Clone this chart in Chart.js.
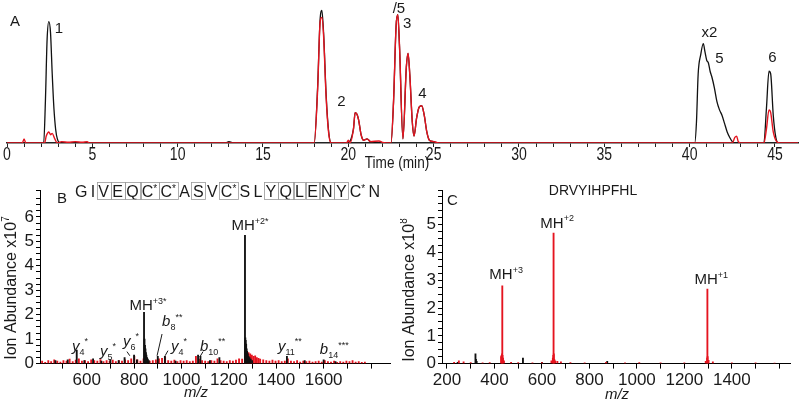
<!DOCTYPE html>
<html>
<head>
<meta charset="utf-8">
<script src="https://cdn.jsdelivr.net/npm/chart.js@4.4.0/dist/chart.umd.min.js"></script>
<style>
html, body { margin: 0; padding: 0; background: #fff; }
#wrap { position: relative; width: 800px; height: 405px; overflow: hidden; }
canvas { position: absolute; }
#chartA { left: 0; top: 0; z-index: 2; }
#chartB { left: 0; top: 170px; }
#chartC { left: 400px; top: 170px; }
</style>
</head>
<body>
<div id="wrap">
  <canvas id="chartA" width="800" height="176"></canvas>
  <canvas id="chartB" width="400" height="235"></canvas>
  <canvas id="chartC" width="400" height="235"></canvas>
</div>
<script>
// ---- Panel A: chromatogram (time in min, relative intensity) ----
const blackTime = [0, 2.15, 2.25, 2.35, 2.45, 2.55, 2.65, 2.75, 2.85, 2.95, 3.1, 12.8, 13.0, 13.3, 18.0, 18.2, 18.35, 18.45, 18.55, 18.7, 18.85, 19.0,
  19.9, 20.3, 20.4, 20.5, 20.6, 20.75, 20.9, 21.1, 21.3, 22.5, 22.65, 22.8, 22.9, 23.0, 23.2, 23.4, 23.5, 23.6, 23.75, 23.85, 24.0, 24.15, 24.3, 24.45, 24.6, 24.75, 25.0, 25.3,
  40.3, 40.4, 40.5, 40.65, 40.8, 40.9, 41.0, 41.1, 41.2, 41.3, 41.45, 41.6, 41.75, 41.9, 42.05, 42.2, 42.35, 42.5, 42.6,
  44.35, 44.5, 44.65, 44.75, 44.9, 45.05, 45.2, 46.35];
const blackVal = [0, 0, 30, 75, 88, 80, 50, 25, 10, 3, 0, 0, 1, 0, 0, 40, 90, 96, 80, 35, 8, 0,
  0, 10, 22, 21, 17, 6, 2, 3, 1, 0, 30, 85, 93, 70, 3, 55, 65, 50, 15, 5, 18, 26, 27, 20, 8, 2, 1, 0,
  0, 15, 50, 64, 72, 66, 60, 58, 52, 48, 40, 30, 24, 20, 14, 8, 4, 1, 0,
  0, 25, 52, 50, 20, 4, 0, 0];

const redTime = [0, 0.9, 1.0, 1.1, 2.2, 2.3, 2.45, 2.55, 2.65, 2.8, 2.95, 3.2, 3.6, 4.0, 4.4, 4.7, 4.8, 18.0, 18.2, 18.35, 18.45, 18.55, 18.7, 18.85, 19.0,
  19.9, 20.0, 20.1, 20.3, 20.4, 20.5, 20.6, 20.75, 20.9, 21.1, 21.3, 21.8, 22.0, 22.5, 22.65, 22.8, 22.9, 23.0, 23.2, 23.4, 23.5, 23.6, 23.75, 23.85, 24.0, 24.15, 24.3, 24.45, 24.6, 24.75, 25.0, 25.3,
  42.5, 42.65, 42.75, 42.85, 43.0, 44.35, 44.5, 44.65, 44.75, 44.9, 45.1, 45.3, 46.35];
const redVal = [0, 0, 3, 0, 0, 5, 8, 6, 7, 3, 0, 1, 0.5, 1, 0.5, 1, 0, 0, 38, 88, 91, 78, 33, 7, 0,
  0, 2, 0, 10, 22, 21, 17, 6, 2, 3, 1, 1.5, 0.5, 0, 30, 85, 93, 70, 3, 55, 65, 50, 15, 5, 18, 26, 27, 20, 8, 2, 1, 0,
  0, 4, 5, 1, 0, 0, 10, 24, 22, 8, 1, 0, 0];
const timeLabelStep = 5;

// ---- Panel B: MS spectrum, GIVEQCCASVCSLYQLENYCN (x10^7) ----
const mzBblack = [468, 520, 558, 590, 627, 662, 700, 735, 760, 800, 812, 842, 844, 846, 848, 850, 852, 855, 858, 862,
  900, 930, 975, 1070, 1080, 1120, 1160, 1268, 1269.5, 1271, 1273, 1275, 1277, 1280, 1283, 1287, 1292, 1298, 1445, 1520, 1600, 1650];
const intBblack = [0.12, 0.15, 0.55, 0.12, 0.2, 0.1, 0.15, 0.12, 0.25, 0.35, 0.15, 2.1, 1.0, 0.75, 0.6, 0.45, 0.35, 0.25, 0.18, 0.12,
  0.3, 0.3, 0.1, 0.35, 0.3, 0.12, 0.25, 5.25, 1.05, 0.95, 0.8, 0.6, 0.5, 0.4, 0.3, 0.25, 0.18, 0.12, 0.3, 0.12, 0.15, 0.08];
const mzBred = [412, 425, 438, 450, 463, 476, 489, 502, 515, 528, 541, 554, 567, 580, 593, 606, 619, 632, 645, 658, 671, 684, 697, 710,
  723, 736, 749, 762, 775, 788, 801, 814, 827, 840, 853, 866, 879, 892, 905, 918, 931, 944, 957, 970, 983, 996, 1009, 1022, 1035,
  1048, 1061, 1074, 1087, 1100, 1113, 1126, 1139, 1152, 1165, 1178, 1191, 1204, 1217, 1230, 1243, 1256, 1269, 1276, 1283, 1290,
  1297, 1304, 1311, 1318, 1325, 1332, 1345, 1358, 1371, 1384, 1397, 1410, 1423, 1436, 1449, 1462, 1475, 1488, 1501, 1514, 1527,
  1540, 1553, 1566, 1579, 1592, 1605, 1618, 1631, 1644, 1657, 1670, 1683, 1696, 1709, 1722, 1735, 1748, 1761, 1774, 1787];
const intBred = [0.1, 0.05, 0.12, 0.08, 0.15, 0.1, 0.06, 0.12, 0.1, 0.18, 0.08, 0.14, 0.2, 0.1, 0.12, 0.08, 0.15, 0.12, 0.1, 0.16, 0.08, 0.12, 0.1, 0.14,
  0.08, 0.12, 0.1, 0.15, 0.12, 0.2, 0.3, 0.15, 0.1, 0.2, 0.18, 0.1, 0.12, 0.15, 0.2, 0.22, 0.28, 0.12, 0.1, 0.14, 0.08, 0.12, 0.1, 0.12, 0.08,
  0.1, 0.3, 0.18, 0.12, 0.1, 0.08, 0.12, 0.1, 0.2, 0.12, 0.1, 0.08, 0.12, 0.1, 0.14, 0.2, 0.18, 0.3, 0.42, 0.45, 0.4,
  0.35, 0.3, 0.32, 0.25, 0.22, 0.18, 0.15, 0.12, 0.1, 0.14, 0.1, 0.12, 0.08, 0.1, 0.2, 0.1, 0.08, 0.12, 0.06, 0.1, 0.08,
  0.1, 0.06, 0.08, 0.1, 0.06, 0.12, 0.08, 0.06, 0.1, 0.05, 0.08, 0.06, 0.1, 0.08, 0.12, 0.06, 0.08, 0.05, 0.06];
const mzTicksB = [500, 600, 700, 800, 900, 1000, 1100, 1200, 1300, 1400, 1500, 1600, 1700, 1800];
const mzLabelsB = [600, 800, 1000, 1200, 1400, 1600];

// ---- Panel C: MS spectrum, DRVYIHPFHL (x10^8) ----
const mzCred = [230, 250, 270, 300, 350, 380, 428, 430, 432, 433, 434, 436, 440, 470, 500, 560, 600, 640, 646, 648, 649, 650, 652, 656,
  665, 680, 720, 780, 870, 950, 1010, 1100, 1200, 1290, 1296, 1297, 1298, 1302, 1320, 1400, 1500, 1580];
const intCred = [0.05, 0.1, 0.06, 0.04, 0.03, 0.04, 0.25, 0.3, 0.35, 2.8, 0.3, 0.2, 0.1, 0.05, 0.04, 0.03, 0.04, 0.1, 0.2, 0.3, 4.7, 0.35, 0.15, 0.1,
  0.08, 0.06, 0.04, 0.03, 0.05, 0.03, 0.04, 0.03, 0.03, 0.08, 0.2, 2.68, 0.25, 0.12, 0.06, 0.03, 0.03, 0.02];
const mzCblack = [245, 320, 322, 325, 520, 600, 875];
const intCblack = [0.05, 0.35, 0.15, 0.08, 0.2, 0.05, 0.08];
const mzTicksC = [200, 300, 400, 500, 600, 700, 800, 900, 1000, 1100, 1200, 1300, 1400, 1500, 1600];
const mzLabelsC = [200, 400, 600, 800, 1000, 1200, 1400];

const seqTokens = ['G', 'I', 'V', 'E', 'Q', 'C*', 'C*', 'A', 'S', 'V', 'C*', 'S', 'L', 'Y', 'Q', 'L', 'E', 'N', 'Y', 'C*', 'N'];
const seqBoxed = [2, 3, 4, 5, 6, 8, 10, 13, 14, 15, 16, 17, 18];

const RED = '#e5141f';
const BLACK = '#111';
const SANS = '"Liberation Sans", Arial, sans-serif';

const T = t => ({ t });
const I = t => ({ t, i: true });
const SUP = t => ({ t, sup: true });
const SUB = t => ({ t, sub: true });

function drawRich(ctx, x, y, parts, size, align, squeeze, rotate) {
    const fontFor = p => (p.i ? 'italic ' : '') + ((p.sup || p.sub) ? Math.round(size * 0.62) : size) + 'px ' + SANS;
    let w = 0;
    parts.forEach(p => { ctx.font = fontFor(p); w += ctx.measureText(p.t).width; });
    ctx.save();
    ctx.translate(x, y);
    if (rotate) ctx.rotate(rotate);
    if (squeeze) ctx.scale(squeeze, 1);
    ctx.textAlign = 'left';
    ctx.textBaseline = 'alphabetic';
    let cx = align === 'center' ? -w / 2 : 0;
    parts.forEach(p => {
        ctx.font = fontFor(p);
        const dy = p.sup ? -size * 0.42 : (p.sub ? size * 0.3 : 0);
        ctx.fillText(p.t, cx, dy);
        cx += ctx.measureText(p.t).width;
    });
    ctx.restore();
}

// text labels and leader lines, placed in data units or canvas pixels
const notesPlugin = {
    id: 'notes',
    afterDraw(chart, args, opts) {
        const ctx = chart.ctx;
        const xs = chart.scales.x, ys = chart.scales.y;
        ctx.save();
        ctx.fillStyle = '#1a1a1a';
        ctx.strokeStyle = '#1a1a1a';
        if (opts.xLabels) {
            const o = opts.xLabels;
            xs.ticks.forEach(t => {
                if (Number.isInteger(t.value) && t.value % o.every === 0) {
                    drawRich(ctx, xs.getPixelForValue(t.value), chart.chartArea.bottom + o.offset, [T(String(t.value))], o.size, 'center', o.squeeze);
                }
            });
        }
        (opts.items || []).forEach(n => {
            const px = n.px !== undefined ? n.px : xs.getPixelForValue(n.x);
            const py = n.py !== undefined ? n.py : ys.getPixelForValue(n.y);
            drawRich(ctx, px, py, n.parts, n.size || 15, n.align || 'left', n.squeeze, n.rotate);
        });
        ctx.lineWidth = 1;
        (opts.lines || []).forEach(l => {
            ctx.beginPath();
            ctx.moveTo(xs.getPixelForValue(l[0]), ys.getPixelForValue(l[1]));
            ctx.lineTo(xs.getPixelForValue(l[2]), ys.getPixelForValue(l[3]));
            ctx.stroke();
        });
        if (opts.sequence) {
            const s = opts.sequence;
            const size = 16;
            const widths = s.tokens.map(tok => {
                ctx.font = size + 'px ' + SANS;
                let w = ctx.measureText(tok[0]).width;
                if (tok.length > 1) { ctx.font = Math.round(size * 0.6) + 'px ' + SANS; w += ctx.measureText('*').width; }
                return w;
            });
            const total = widths.reduce((a, b) => a + b, 0);
            const gap = (s.width - total) / (s.tokens.length - 1);
            let x = s.px;
            s.tokens.forEach((tok, i) => {
                ctx.fillStyle = '#1a1a1a';
                ctx.font = size + 'px ' + SANS;
                ctx.fillText(tok[0], x, s.py);
                if (tok.length > 1) {
                    const w0 = ctx.measureText(tok[0]).width;
                    ctx.font = Math.round(size * 0.6) + 'px ' + SANS;
                    ctx.fillText('*', x + w0, s.py - 5);
                }
                if (s.boxed.includes(i)) {
                    ctx.strokeStyle = '#999';
                    ctx.lineWidth = 0.8;
                    ctx.strokeRect(Math.round(x - gap / 2) + 0.5, s.py - 14.5, Math.round(widths[i] + gap), 17);
                }
                x += widths[i] + gap;
            });
        }
        ctx.restore();
    }
};

function axisStyle(extra) {
    return Object.assign({
        type: 'linear',
        border: { color: '#000', width: 1 },
        grid: { drawOnChartArea: false, color: '#000', tickLength: 4 }
    }, extra);
}

function specTicks(step, labels, size) {
    return {
        stepSize: step, autoSkip: false, maxRotation: 0, color: '#1a1a1a', padding: 2,
        font: { family: SANS, size: size },
        callback: v => (labels.includes(v) ? String(v) : '')
    };
}

function stickSet(xs, ys, color) {
    return {
        data: xs.map((x, i) => ({ x: x, y: ys[i] })),
        backgroundColor: color, borderWidth: 0, barThickness: 1.2, grouped: false
    };
}

const abundLabelsB = [0, 1, 2, 3, 4, 5, 6];
const abundLabelsC = [0, 1, 2, 3, 4, 5];

Chart.defaults.font.family = SANS;

// ---- Chart A ----
new Chart(document.getElementById('chartA'), {
    type: 'line',
    data: {
        datasets: [
            { data: redTime.map((t, i) => ({ x: t, y: redVal[i] })), borderColor: RED, borderWidth: 1.4, pointRadius: 0, cubicInterpolationMode: 'monotone' },
            { data: blackTime.map((t, i) => ({ x: t, y: blackVal[i] })), borderColor: BLACK, borderWidth: 1.3, pointRadius: 0, cubicInterpolationMode: 'monotone' }
        ]
    },
    options: {
        responsive: false, animation: false,
        layout: { padding: { left: 7, right: 2, top: 5, bottom: 29 } },
        plugins: {
            legend: { display: false }, tooltip: { enabled: false },
            notes: {
                xLabels: { every: timeLabelStep, size: 18, squeeze: 0.78, offset: 17 },
                items: [
                    { px: 10, py: 26, parts: [T('A')], size: 15 },
                    { x: 2.8, y: 80, parts: [T('1')] },
                    { x: 19.35, y: 26.8, parts: [T('2')] },
                    { x: 22.6, y: 94, parts: [T('/5')] },
                    { x: 23.2, y: 83, parts: [T('3')] },
                    { x: 24.1, y: 32.6, parts: [T('4')] },
                    { x: 40.7, y: 77, parts: [T('x2')] },
                    { x: 41.5, y: 58, parts: [T('5')] },
                    { x: 44.85, y: 58.7, parts: [T('6')], align: 'center' },
                    { px: 397, py: 168, parts: [T('Time (min)')], size: 17, align: 'center', squeeze: 0.8 }
                ]
            }
        },
        scales: {
            x: axisStyle({
                min: 0, max: 46.35,
                border: { color: '#222', width: 1.5 },
                grid: { drawOnChartArea: false, tickLength: 4, color: c => (c.tick && Number.isInteger(c.tick.value) ? '#222' : 'transparent') },
                ticks: { stepSize: 1, autoSkip: false, display: false }
            }),
            y: { type: 'linear', display: false, min: 0, max: 100 }
        }
    },
    plugins: [notesPlugin]
});

// ---- Chart B ----
new Chart(document.getElementById('chartB'), {
    type: 'bar',
    data: { datasets: [stickSet(mzBblack, intBblack, BLACK), stickSet(mzBred, intBred, RED)] },
    options: {
        responsive: false, animation: false,
        layout: { padding: { left: 0, right: 10, top: 20, bottom: 12 } },
        plugins: {
            legend: { display: false }, tooltip: { enabled: false },
            notes: {
                items: [
                    { px: 57, py: 33, parts: [T('B')], size: 15 },
                    { x: 859, y: 2.2, parts: [T('MH'), SUP('+3*')], align: 'center' },
                    { x: 1289, y: 5.47, parts: [T('MH'), SUP('+2*')], align: 'center' },
                    { x: 538, y: 0.53, parts: [I('y'), SUB('4'), SUP('*')] },
                    { x: 656, y: 0.32, parts: [I('y'), SUB('5'), SUP('*')] },
                    { x: 753, y: 0.73, parts: [I('y'), SUB('6'), SUP('*')] },
                    { x: 918, y: 1.54, parts: [I('b'), SUB('8'), SUP('**')] },
                    { x: 956, y: 0.53, parts: [I('y'), SUB('4'), SUP('*')] },
                    { x: 1078, y: 0.53, parts: [I('b'), SUB('10'), SUP('**')] },
                    { x: 1407, y: 0.53, parts: [I('y'), SUB('11'), SUP('**')] },
                    { x: 1584, y: 0.40, parts: [I('b'), SUB('14'), SUP('***')] },
                    { px: 16, py: 118, parts: [T('Ion Abundance x10'), SUP('7')], size: 16, align: 'center', rotate: -Math.PI / 2 },
                    { px: 196, py: 227, parts: [I('m/z')], size: 15, align: 'center' }
                ],
                lines: [[770, 0.49, 782, 0.32], [918, 1.21, 897, 0.32], [943, 0.53, 931, 0.32], [1091, 0.49, 1078, 0.28]],
                sequence: { tokens: seqTokens, boxed: seqBoxed, px: 75, py: 27, width: 305 }
            }
        },
        scales: {
            x: axisStyle({
                min: 403, max: 1880, offset: false,
                grid: { drawOnChartArea: false, offset: false, tickLength: 5, color: '#000' },
                ticks: specTicks(100, mzLabelsB, 17),
                afterBuildTicks: s => { s.ticks = mzTicksB.map(v => ({ value: v })); }
            }),
            y: axisStyle({
                min: 0, max: 7.1,
                grid: { drawOnChartArea: false, tickLength: 4, color: '#000' },
                ticks: specTicks(0.25, abundLabelsB, 17),
                afterFit: s => { s.width = 40; }
            })
        }
    },
    plugins: [notesPlugin]
});

// ---- Chart C ----
new Chart(document.getElementById('chartC'), {
    type: 'bar',
    data: { datasets: [stickSet(mzCred, intCred, RED), stickSet(mzCblack, intCblack, BLACK)] },
    options: {
        responsive: false, animation: false,
        layout: { padding: { left: 0, right: 10, top: 20, bottom: 12 } },
        plugins: {
            legend: { display: false }, tooltip: { enabled: false },
            notes: {
                items: [
                    { px: 47, py: 35, parts: [T('C')], size: 15 },
                    { px: 193, py: 25, parts: [T('DRVYIHPFHL')], size: 14, align: 'center' },
                    { x: 449, y: 3.04, parts: [T('MH'), SUP('+3')], align: 'center' },
                    { x: 664, y: 4.89, parts: [T('MH'), SUP('+2')], align: 'center' },
                    { x: 1313, y: 2.86, parts: [T('MH'), SUP('+1')], align: 'center' },
                    { px: 14, py: 120, parts: [T('Ion Abundance x10'), SUP('8')], size: 16, align: 'center', rotate: -Math.PI / 2 },
                    { px: 217, py: 229, parts: [I('m/z')], size: 15, align: 'center' }
                ]
            }
        },
        scales: {
            x: axisStyle({
                min: 179, max: 1645, offset: false,
                grid: { drawOnChartArea: false, offset: false, tickLength: 5, color: '#000' },
                ticks: specTicks(100, mzLabelsC, 17),
                afterBuildTicks: s => { s.ticks = mzTicksC.map(v => ({ value: v })); }
            }),
            y: axisStyle({
                min: 0, max: 6.25,
                grid: { drawOnChartArea: false, tickLength: 4, color: '#000' },
                ticks: specTicks(0.25, abundLabelsC, 17),
                afterFit: s => { s.width = 42; }
            })
        }
    },
    plugins: [notesPlugin]
});
</script>
</body>
</html>
